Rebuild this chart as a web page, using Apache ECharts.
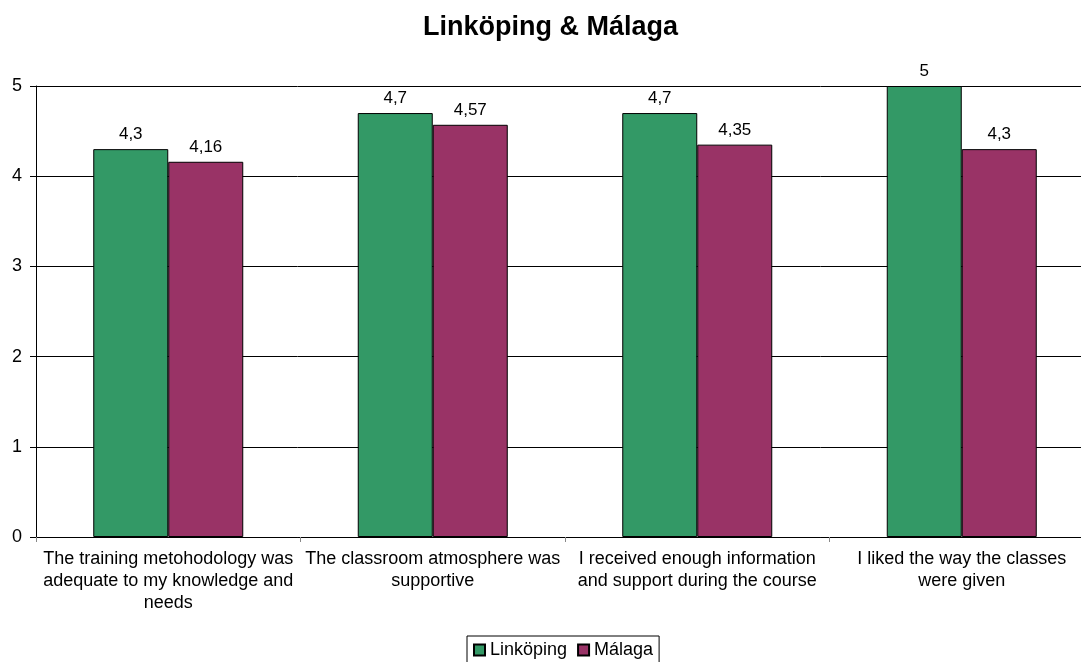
<!DOCTYPE html>
<html>
<head>
<meta charset="utf-8">
<script src="https://cdn.jsdelivr.net/npm/echarts@6/dist/echarts.min.js"></script>
<style>
  html, body { margin: 0; padding: 0; background: #fff; }
  #chart { width: 1081px; height: 662px; }
</style>
</head>
<body>
<div id="chart"></div>
<script>
// line breaks follow the wrapping in the original chart
const categories = [
  "The training metohodology was\nadequate to my knowledge and\nneeds",
  "The classroom atmosphere was\nsupportive",
  "I received enough information\nand support during the course",
  "I liked the way the classes\nwere given"
];
const linkoping = [4.3, 4.7, 4.7, 5];
const malaga = [4.16, 4.57, 4.35, 4.3];
const yTicks = [0, 1, 2, 3, 4, 5];

const chart = echarts.init(document.getElementById("chart"));
const font = "Liberation Sans, Arial, sans-serif";

function commaLabel(p) {
  return String(p.value).replace(".", ",");
}

const option = {
  animation: false,
  textStyle: { fontFamily: font },
  title: {
    text: "Linköping & Málaga",
    left: 418,
    top: 9,
    textStyle: { fontSize: 27, fontWeight: "bold", color: "#000", fontFamily: font }
  },
  legend: {
    left: 467,
    top: 636,
    itemWidth: 11,
    itemHeight: 11,
    itemGap: 10,
    padding: [5, 6, 5, 6],
    borderColor: "#000",
    borderWidth: 1,
    borderRadius: 0,
    textStyle: { fontSize: 18, color: "#000", fontFamily: font, padding: [0, 0, 0, 0] },
    data: [
      { name: "Linköping", icon: "rect" },
      { name: "Málaga", icon: "rect" }
    ]
  },
  grid: { left: 36, width: 1058, top: 86, height: 451, outerBoundsMode: "none", containLabel: false },
  xAxis: {
    type: "category",
    data: categories,
    axisLine: { lineStyle: { color: "#000", width: 1 } },
    axisTick: { show: true, length: 5, lineStyle: { color: "#888" } },
    axisLabel: {
      interval: 0,
      color: "#000",
      fontSize: 18,
      lineHeight: 22,
      margin: 11,
      fontFamily: font
    }
  },
  yAxis: {
    type: "value",
    min: 0,
    max: yTicks[yTicks.length - 1],
    interval: 1,
    axisLine: { show: true, lineStyle: { color: "#000", width: 1 } },
    axisTick: { show: true, length: 6, lineStyle: { color: "#000" } },
    axisLabel: { color: "#000", fontSize: 18, margin: 14, fontFamily: font },
    splitLine: { show: true, lineStyle: { color: "#000", width: 1 } }
  },
  series: [
    {
      name: "Linköping",
      type: "bar",
      data: linkoping,
      barWidth: 75,
      barGap: "0%",
      itemStyle: { color: "#339966", borderColor: "#000", borderWidth: 1 },
      label: { show: true, position: "top", distance: 6, color: "#000", fontSize: 17, formatter: commaLabel, fontFamily: font }
    },
    {
      name: "Málaga",
      type: "bar",
      data: malaga,
      barWidth: 75,
      itemStyle: { color: "#993366", borderColor: "#000", borderWidth: 1 },
      label: { show: true, position: "top", distance: 6, color: "#000", fontSize: 17, formatter: commaLabel, fontFamily: font }
    }
  ]
};

chart.setOption(option);
</script>
</body>
</html>
